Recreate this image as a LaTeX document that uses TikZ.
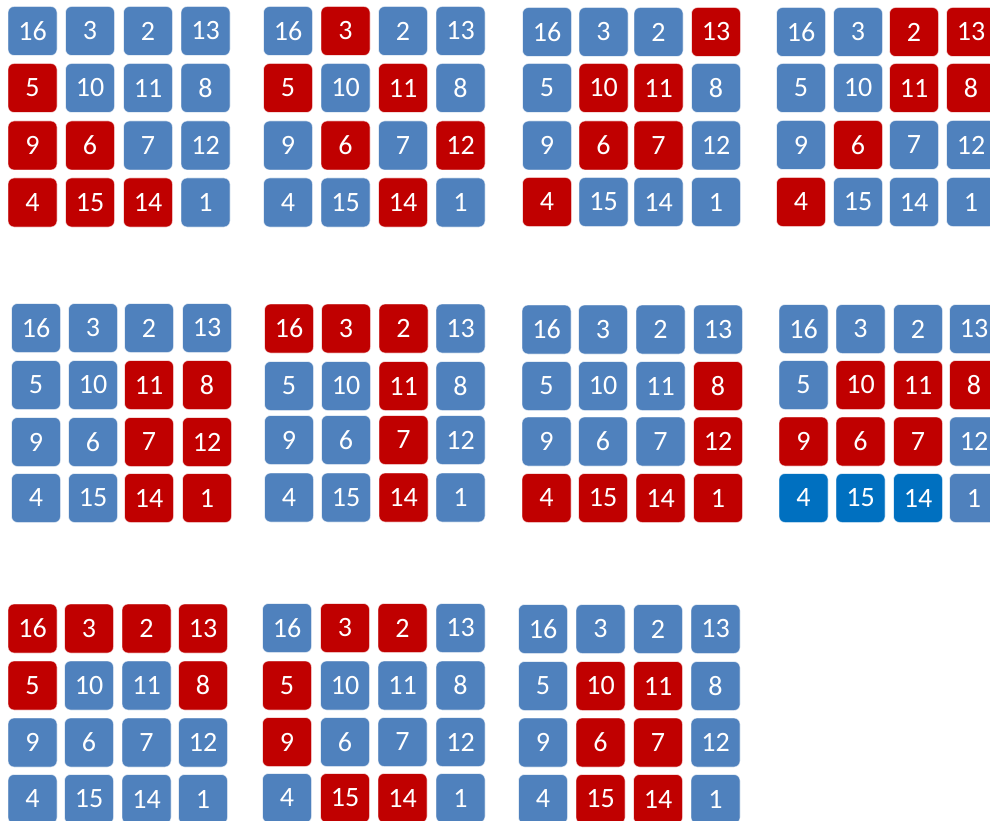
\documentclass[tikz,border=0pt]{standalone}
\usepackage{fontspec}
\setmainfont{Carlito}
\definecolor{tblue}{HTML}{4F81BD}
\definecolor{tred}{HTML}{C00000}
\definecolor{tdark}{HTML}{0070C0}
\tikzset{
  tile/.style={rounded corners=6pt, minimum width=49pt, minimum height=49pt,
    inner sep=0pt, text=white, draw=white, draw opacity=0.6, line width=0.8pt,
    font=\fontsize{28}{28}\selectfont},
  B/.style={fill=tblue},
  R/.style={fill=tred},
  D/.style={fill=tdark},
}
\newcommand\magicgrid[4]{%
  \foreach \c [count=\i from 0] in {#4} {
    \pgfmathtruncatemacro\rr{div(\i,4)}
    \pgfmathtruncatemacro\kk{mod(\i,4)}
    \pgfmathsetmacro\xx{{#2}[\kk]}
    \pgfmathsetmacro\yy{{#3}[\rr]}
    \pgfmathtruncatemacro\nn{{16,3,2,13,5,10,11,8,9,6,7,12,4,15,14,1}[\i]}
    \node[tile,\c] (#1-\i) at (\xx,\yy) {\nn};
  }%
}
\begin{document}
\begin{tikzpicture}[x=1pt,y=-1pt]
\useasboundingbox (0,0) rectangle (990,821);
\fill[white] (0,0) rectangle (990,821);
\clip (0,0) rectangle (990,821);
% row 1
\magicgrid{g1}{32.5,90,148,205.5}{31,88,145.5,202.5}{B,B,B,B, R,B,B,B, R,R,B,B, R,R,R,B}
\magicgrid{g2}{288,345.5,403,460.5}{31,88,145.5,202.5}{B,R,B,B, R,B,R,B, B,R,B,R, B,B,R,B}
\magicgrid{g3}{547,603.5,658.5,716}{32,88,145.5,202}{B,B,B,R, B,R,R,B, B,R,R,B, R,B,B,B}
\magicgrid{g4}{801,858,914,971}{32,88,145,202}{B,B,R,R, B,B,R,R, B,R,B,B, R,B,B,B}
% row 2
\magicgrid{g5}{36,93,149,207}{328,385,442,498}{B,B,B,B, B,B,R,R, B,B,R,R, B,B,R,R}
\magicgrid{g6}{289,346,403.5,460.5}{328.5,386,440,497.5}{R,R,R,B, B,B,R,B, B,B,R,B, B,B,R,B}
\magicgrid{g7}{546.5,603,660.5,718}{329.5,386,441.5,498}{B,B,B,B, B,B,B,R, B,B,B,R, R,R,R,R}
\magicgrid{g8}{803.5,860.5,918,974}{329,385,441.5,498}{B,B,B,B, B,R,R,R, R,R,R,B, D,D,D,B}
% row 3
\magicgrid{g9}{32.5,89,146.5,203}{628.5,685.5,742.5,799}{R,R,R,R, R,B,B,R, B,B,B,B, B,B,B,B}
\magicgrid{g10}{287,345,402.5,460.5}{628,685.5,742,798}{B,R,R,B, R,B,B,B, R,B,B,B, B,R,R,B}
\magicgrid{g11}{543,600.5,658,715.5}{629,686,742.5,799}{B,B,B,B, B,R,R,B, B,R,R,B, B,R,R,B}
\end{tikzpicture}
\end{document}
